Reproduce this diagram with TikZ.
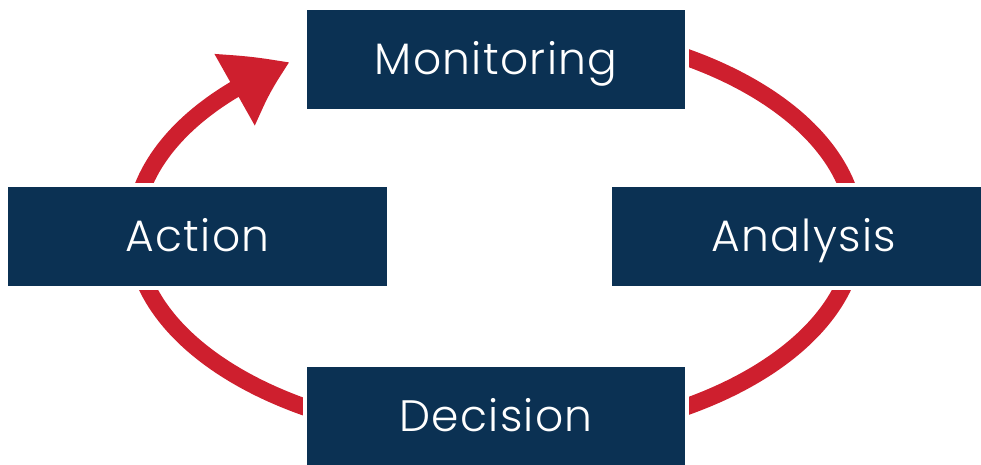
\documentclass[tikz,border=0pt]{standalone}
\usepackage{fontspec}
\setmainfont{Poppins Light}[LetterSpace=3]
\usetikzlibrary{arrows.meta,bending,backgrounds}
\definecolor{navy}{RGB}{11,49,83}
\definecolor{cyclered}{RGB}{206,31,46}
\tikzset{
  stagebox/.style={fill=navy, draw=white, line width=4pt, inner sep=0pt,
    minimum height=103, text=white, text height=30pt, text depth=0pt,
    font=\fontsize{44}{44}\selectfont},
  cyclearc/.style={draw=cyclered, line width=17pt}
}
\begin{document}
\begin{tikzpicture}[x=1pt,y=1pt]
\useasboundingbox (0,0) rectangle (981,465);
\clip (0,0) rectangle (981,465);
\node[stagebox, minimum width=382] (mon) at (496,405.5) {Monitoring};
\node[stagebox, minimum width=383] (act) at (197.5,228.5) {Action};
\node[stagebox, minimum width=388] (ana) at (804,228.5) {Analysis};
\node[stagebox, minimum width=382] (dec) at (496,48.5) {Decision};
\coordinate (c) at (495,233);
\begin{scope}[on background layer]
\draw[cyclearc, -{Triangle[length=64pt,width=76pt,bend]}]
  ([shift={(90:361 and 206)}]c) arc[start angle=90, end angle=-235.4, x radius=361, y radius=206];
\end{scope}
\end{tikzpicture}
\end{document}
